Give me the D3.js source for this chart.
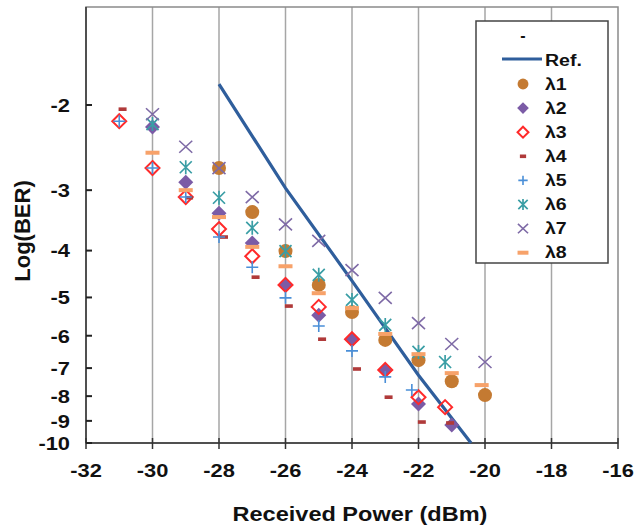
<!DOCTYPE html>
<html><head><meta charset="utf-8">
<script src="https://cdn.jsdelivr.net/npm/d3@7"></script>
<style>html,body{margin:0;padding:0;background:#fff;}svg{display:block;font-family:"Liberation Sans",Arial,sans-serif;}</style>
</head><body>
<svg id="chart" width="638" height="527"></svg>
<script>
// ---- data ----
const xTicks = [-32, -30, -28, -26, -24, -22, -20, -18, -16];
const yTicks = [-2, -3, -4, -5, -6, -7, -8, -9, -10];

const refPower = [-28, -26, -24, -22, -20.42];
const refLogBER = [-1.81, -2.97, -4.62, -7.24, -10];

const l1Power = [-28, -27, -26, -25, -24, -23, -22, -21, -20];
const l1LogBER = [-2.70, -3.33, -4.01, -4.71, -5.36, -6.12, -6.74, -7.45, -7.96];

const l2Power = [-30, -29, -28, -27, -26, -25, -24, -23, -22, -21];
const l2LogBER = [-2.22, -2.89, -3.35, -3.86, -4.71, -5.44, -6.10, -7.06, -8.31, -9.18];

const l3Power = [-31, -30, -29, -28, -27, -26, -25, -24, -23, -22, -21.2];
const l3LogBER = [-2.16, -2.70, -3.10, -3.61, -4.11, -4.71, -5.23, -6.10, -7.06, -8.04, -8.43];

const l4Power = [-30.9, -28.9, -27.85, -26.9, -25.9, -24.9, -23.85, -22.9, -21.9, -21.05];
const l4LogBER = [-2.04, -3.11, -3.75, -4.54, -5.21, -6.10, -7.03, -8.04, -9.05, -9.09];

const l5Power = [-31, -30, -29, -28, -27, -26, -25, -24, -23, -22.2];
const l5LogBER = [-2.16, -2.70, -3.10, -3.75, -4.33, -5.01, -5.73, -6.45, -7.30, -7.77];

const l6Power = [-30, -29, -28, -27, -26, -25, -24, -23, -22, -21.2];
const l6LogBER = [-2.19, -2.69, -3.11, -3.59, -4.01, -4.49, -5.06, -5.70, -6.48, -6.80];

const l7Power = [-30, -29, -28, -27, -26, -25, -24, -23, -22, -21, -20];
const l7LogBER = [-2.09, -2.44, -2.70, -3.10, -3.53, -3.82, -4.39, -5.01, -5.65, -6.24, -6.80];

const l8Power = [-30, -29, -28, -27, -26, -25, -24, -23, -22, -21, -20.1];
const l8LogBER = [-2.51, -3.00, -3.41, -3.93, -4.31, -4.90, -5.26, -5.95, -6.55, -7.17, -7.59];

const seriesNames = ["λ1", "λ2", "λ3", "λ4", "λ5", "λ6", "λ7", "λ8"];
const seriesPower = [l1Power, l2Power, l3Power, l4Power, l5Power, l6Power, l7Power, l8Power];
const seriesLogBER = [l1LogBER, l2LogBER, l3LogBER, l4LogBER, l5LogBER, l6LogBER, l7LogBER, l8LogBER];
const seriesShape = ["circle", "diamond", "diamondOpen", "smallDash", "plus", "star", "cross", "dash"];
const seriesColor = ["#C47A32", "#7B5BA6", "#FF2A2A", "#B03A3A", "#4A8FD8", "#3A9EA5", "#7E6AA6", "#F7A26A"];

// ---- layout ----
const L = 86, R = 618, T = 7, B = 443;
const svg = d3.select("#chart");
const x = d3.scaleLinear().domain([-32, -16]).range([L, R]);
const yl = d3.scaleLog().domain([1.254, 10]).range([T, B]);
const y = v => yl(-v);

function stretch(sel, k) {
  sel.each(function () {
    const w = this.getComputedTextLength();
    this.setAttribute("textLength", w * k);
    this.setAttribute("lengthAdjust", "spacingAndGlyphs");
  });
}

// gridlines
svg.append("g").selectAll("line").data(xTicks.slice(1, -1)).join("line")
  .attr("x1", d => x(d)).attr("x2", d => x(d)).attr("y1", T).attr("y2", B)
  .attr("stroke", "#a6a6a6").attr("stroke-width", 1.5);

// frame
svg.append("rect").attr("x", L).attr("y", T).attr("width", R - L).attr("height", B - T)
  .attr("fill", "none").attr("stroke", "#8a8a8a").attr("stroke-width", 1.5);

// axes lines
svg.append("line").attr("x1", L).attr("x2", L).attr("y1", T).attr("y2", B).attr("stroke", "#333").attr("stroke-width", 1.5);
svg.append("line").attr("x1", L).attr("x2", R).attr("y1", B).attr("y2", B).attr("stroke", "#333").attr("stroke-width", 1.5);

// x ticks (crossing)
svg.append("g").selectAll("line").data(xTicks).join("line")
  .attr("x1", d => x(d)).attr("x2", d => x(d)).attr("y1", B - 5).attr("y2", B + 6)
  .attr("stroke", "#333").attr("stroke-width", 1.5);
// y ticks (inside)
svg.append("g").selectAll("line").data(yTicks).join("line")
  .attr("x1", L).attr("x2", L + 6).attr("y1", d => y(d)).attr("y2", d => y(d))
  .attr("stroke", "#222").attr("stroke-width", 2);

// tick labels
const xl = svg.append("g").selectAll("text").data(xTicks).join("text")
  .attr("x", d => x(d)).attr("y", 477).attr("text-anchor", "middle")
  .attr("font-size", 19).attr("font-weight", "bold").attr("fill", "#111")
  .text(d => d);
stretch(xl, 1.15);
const ylab = svg.append("g").selectAll("text").data(yTicks).join("text")
  .attr("x", 70).attr("y", d => y(d)).attr("dy", "0.36em").attr("text-anchor", "end")
  .attr("font-size", 19).attr("font-weight", "bold").attr("fill", "#111")
  .text(d => d);
stretch(ylab, 1.15);

// axis titles
const xt = svg.append("text").attr("x", 360).attr("y", 521).attr("text-anchor", "middle")
  .attr("font-size", 21).attr("font-weight", "bold").attr("fill", "#111")
  .text("Received Power (dBm)");
stretch(xt, 1.12);
svg.append("text").attr("transform", "translate(30,231) rotate(-90)").attr("text-anchor", "middle")
  .attr("font-size", 22).attr("font-weight", "bold").attr("fill", "#111")
  .text("Log(BER)");

// Ref line
const refData = refPower.map((p, i) => [p, refLogBER[i]]);
svg.append("path").datum(refData)
  .attr("d", d3.line().x(d => x(d[0])).y(d => y(d[1])))
  .attr("fill", "none").attr("stroke", "#2F5E9C").attr("stroke-width", 3.2);

// markers
function drawMarker(g, shape, color, s) {
  // s: scale factor
  switch (shape) {
    case "circle":
      g.append("circle").attr("r", 7 * s).attr("fill", color); break;
    case "diamond":
      g.append("path").attr("d", `M0,${-7.5 * s}L${7.5 * s},0L0,${7.5 * s}L${-7.5 * s},0Z`).attr("fill", color); break;
    case "diamondOpen":
      g.append("path").attr("d", `M0,${-7 * s}L${7 * s},0L0,${7 * s}L${-7 * s},0Z`).attr("fill", "none")
        .attr("stroke", color).attr("stroke-width", 2); break;
    case "smallDash":
      g.append("rect").attr("x", -4 * s).attr("y", -1.8).attr("width", 8 * s).attr("height", 3.6).attr("fill", color); break;
    case "plus":
      g.append("path").attr("d", `M${-6 * s},0H${6 * s}M0,${-6 * s}V${6 * s}`).attr("stroke", color).attr("stroke-width", 1.6); break;
    case "star":
      g.append("path").attr("d", `M${-6 * s},${-6 * s}L${6 * s},${6 * s}M${-6 * s},${6 * s}L${6 * s},${-6 * s}M0,${-7 * s}V${7 * s}`)
        .attr("stroke", color).attr("stroke-width", 1.7); break;
    case "cross":
      g.append("path").attr("d", `M${-6.5 * s},${-6 * s}L${6.5 * s},${6 * s}M${-6.5 * s},${6 * s}L${6.5 * s},${-6 * s}`)
        .attr("stroke", color).attr("stroke-width", 1.6); break;
    case "dash":
      g.append("rect").attr("x", -7 * s).attr("y", -2).attr("width", 14 * s).attr("height", 4).attr("fill", color); break;
  }
}

seriesNames.forEach((name, i) => {
  const pts = seriesPower[i].map((p, j) => [p, seriesLogBER[i][j]]);
  const g = svg.append("g");
  pts.forEach(d => {
    const m = g.append("g").attr("transform", `translate(${x(d[0])},${y(d[1])})`);
    drawMarker(m, seriesShape[i], seriesColor[i], 1);
  });
});

// legend
const lg = svg.append("g");
lg.append("rect").attr("x", 476).attr("y", 21).attr("width", 132).attr("height", 242)
  .attr("fill", "#fff").attr("stroke", "#444").attr("stroke-width", 1.5);
lg.append("text").attr("x", 523).attr("y", 35).attr("dy", "0.35em").attr("text-anchor", "middle")
  .attr("font-size", 16).attr("font-weight", "bold").attr("fill", "#111").text("-");
lg.append("line").attr("x1", 502).attr("x2", 542).attr("y1", 59).attr("y2", 59)
  .attr("stroke", "#2F5E9C").attr("stroke-width", 3.2);
const lt0 = lg.append("text").attr("x", 545).attr("y", 60).attr("dy", "0.36em")
  .attr("font-size", 16).attr("font-weight", "bold").attr("fill", "#111").text("Ref.");
stretch(lt0, 1.22);
seriesNames.forEach((name, i) => {
  const yy = 84 + i * 24.1;
  const m = lg.append("g").attr("transform", `translate(523,${yy})`);
  drawMarker(m, seriesShape[i], seriesColor[i], 0.78);
  const t = lg.append("text").attr("x", 545).attr("y", yy).attr("dy", "0.36em")
    .attr("font-size", 16).attr("font-weight", "bold").attr("fill", "#111").text(name);
  stretch(t, 1.22);
});
</script>
</body></html>
